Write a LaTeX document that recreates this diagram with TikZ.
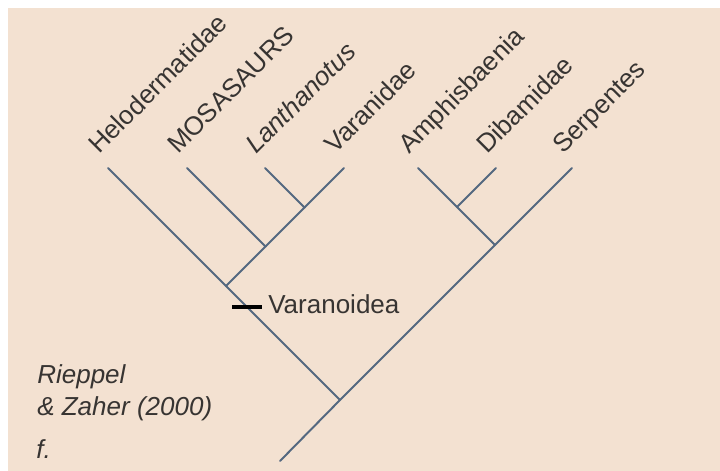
\documentclass[tikz,border=0pt]{standalone}
\usepackage{fontspec}
\setmainfont{Liberation Sans}
\definecolor{bgpeach}{RGB}{243,225,209}
\definecolor{branchblue}{RGB}{84,104,128}
\definecolor{labelgray}{RGB}{55,52,50}
\tikzset{
	branch/.style={draw=branchblue,line width=1.4pt,line cap=round},
	taxon/.style={anchor=base west,inner sep=0pt,xshift=-6.4pt,yshift=9.2pt,rotate=45,
		text=labelgray,font=\fontsize{18.5}{22}\selectfont},
	plain/.style={anchor=base west,inner sep=0pt,text=labelgray,font=\fontsize{18.5}{22}\selectfont}
}
\begin{document}
\begin{tikzpicture}[x=0.025cm,y=-0.025cm]
		
		% Nền
		\useasboundingbox (0,0) rectangle (720,471);
		\fill[bgpeach] (8,8) rectangle (720,471);
		
		% Các nút trong
		\coordinate (root) at (280,461);
		\coordinate (sq) at (340,400);
		\coordinate (var) at (226,286);
		\coordinate (mos) at (265.5,246.5);
		\coordinate (lan) at (304.5,207.5);
		\coordinate (sn) at (495,245);
		\coordinate (amd) at (457,207);
		
		% Các ngọn
		\coordinate (helo) at (108,168);
		\coordinate (mosa) at (187,168);
		\coordinate (lant) at (265,168);
		\coordinate (vara) at (344,168);
		\coordinate (amph) at (418,168);
		\coordinate (diba) at (496,168);
		\coordinate (serp) at (572,168);
		
		% Các nhánh
		\draw[branch] (root) -- (sq);
		\draw[branch] (sq) -- (var) -- (helo);
		\draw[branch] (var) -- (mos) -- (mosa);
		\draw[branch] (mos) -- (lan) -- (lant);
		\draw[branch] (lan) -- (vara);
		\draw[branch] (sq) -- (sn) -- (serp);
		\draw[branch] (sn) -- (amd) -- (amph);
		\draw[branch] (amd) -- (diba);
		
		% Nhãn các ngọn
		\node[taxon] (lhelo) at (helo) {Helodermatidae};
		\node[taxon] (lmosa) at (mosa) {MOSASAURS};
		\node[taxon] (llant) at (lant) {\itshape Lanthanotus};
		\node[taxon] (lvara) at (vara) {Varanidae};
		\node[taxon] (lamph) at (amph) {Amphisbaenia};
		\node[taxon] (ldiba) at (diba) {Dibamidae};
		\node[taxon] (lserp) at (serp) {Serpentes};
		
		% Varanoidea
		\node[fill=black,inner sep=0pt,minimum width=0.75cm,minimum height=2.2pt] (vbar) at (247,307) {};
		\node[plain] (lvar) at (268,313) {Varanoidea};
		
		% Nguồn
		\node[plain] (src1) at (37,383) {\itshape Rieppel};
		\node[plain] (src2) at (37,415) {\itshape \& Zaher (2000)};
		\node[plain] (fig) at (36,458) {\itshape f.};
		
\end{tikzpicture}
\end{document}
